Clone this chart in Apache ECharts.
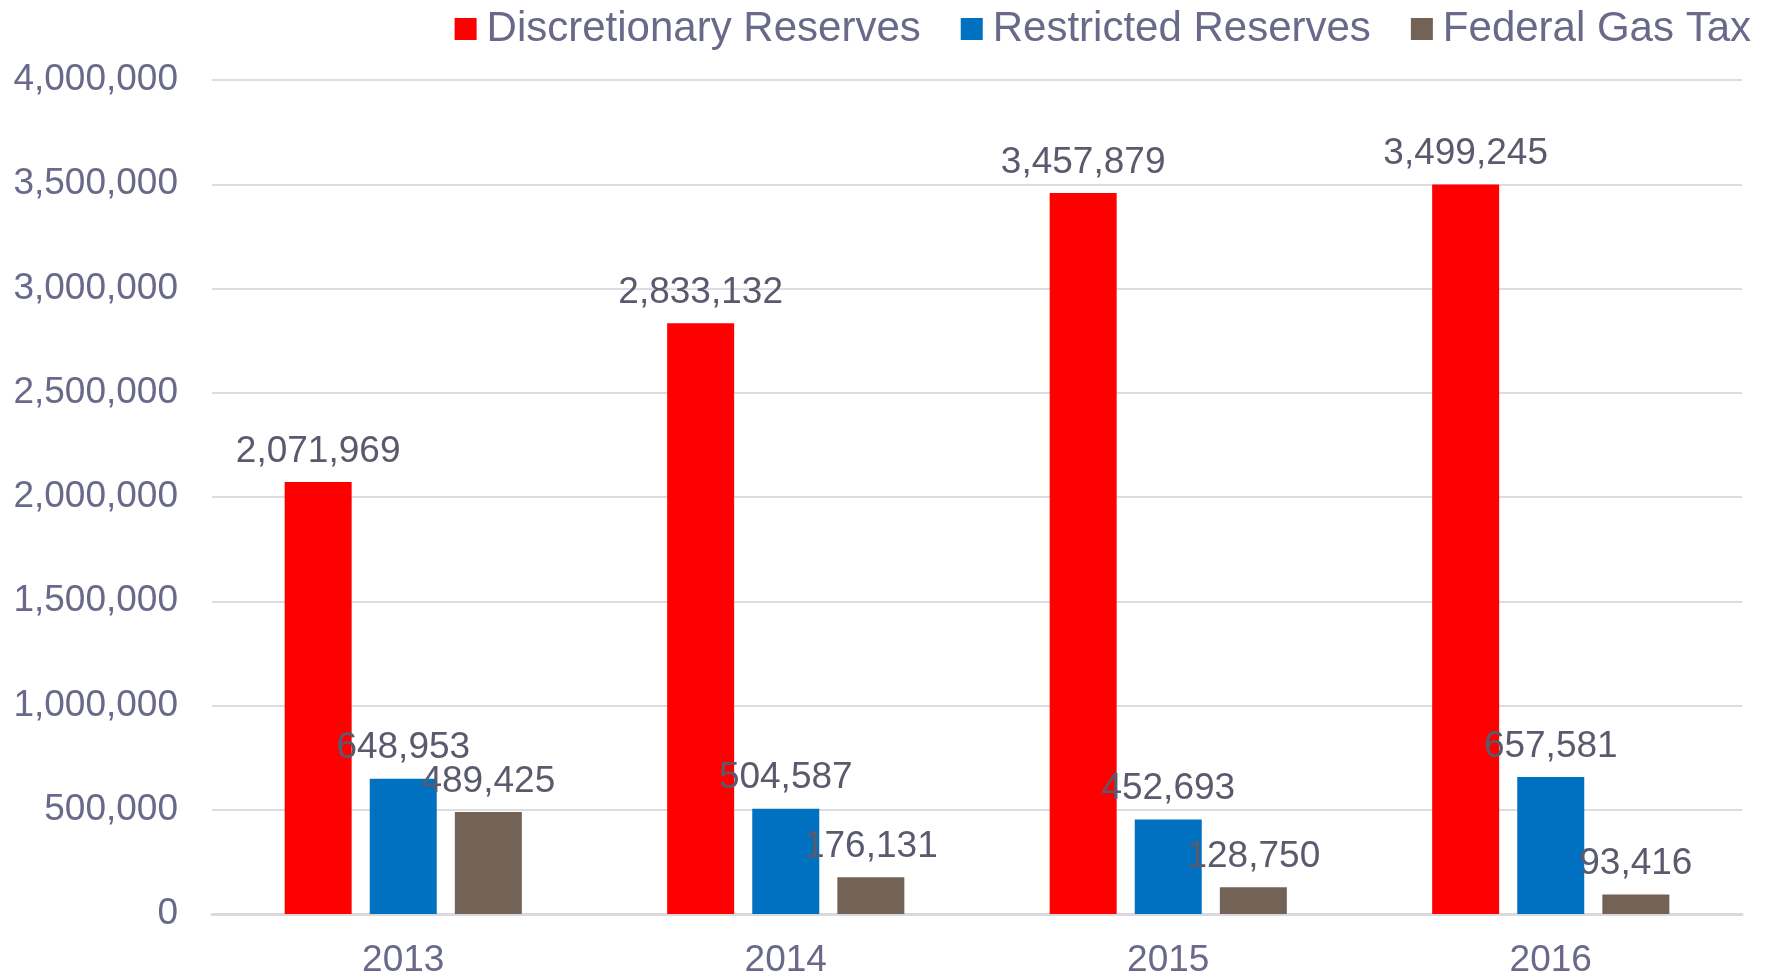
<!DOCTYPE html>
<html>
<head>
<meta charset="utf-8">
<script src="https://cdn.jsdelivr.net/npm/echarts@6/dist/echarts.min.js"></script>
<style>
html,body{margin:0;padding:0;background:#fff;}
#c{width:1770px;height:979px;}
</style>
</head>
<body>
<div id="c"></div>
<script>
const categories = ['2013', '2014', '2015', '2016'];
const discretionary = [2071969, 2833132, 3457879, 3499245];
const restricted = [648953, 504587, 452693, 657581];
const federalGasTax = [489425, 176131, 128750, 93416];
const seriesNames = ['Discretionary Reserves', 'Restricted Reserves', 'Federal Gas Tax'];

const FONT = '"Liberation Sans", Arial, sans-serif';
const AXIS_COLOR = '#69698A';
const LABEL_COLOR = '#5A5A6E';
const fmt = v => Number(v).toLocaleString('en-US');

const chart = echarts.init(document.getElementById('c'));
const mk = (name, data, color) => ({
  name, type: 'bar', data,
  barWidth: 67, barGap: '27%',
  itemStyle: { color },
  label: {
    show: true, position: 'top', distance: 12,
    color: LABEL_COLOR, fontSize: 37, fontFamily: FONT,
    formatter: p => fmt(p.value)
  }
});
chart.setOption({
  animation: false,
  textStyle: { fontFamily: FONT },
  legend: {
    top: 3, right: 14,
    itemWidth: 22, itemHeight: 22, itemGap: 40,
    icon: 'rect',
    textStyle: { color: AXIS_COLOR, fontSize: 42, fontFamily: FONT, padding: [0, 0, 0, 5] },
    data: seriesNames
  },
  grid: { left: 212, right: 28, top: 80, bottom: 59, containLabel: false },
  xAxis: {
    type: 'category', data: categories,
    axisTick: { show: false },
    axisLine: { lineStyle: { color: '#D9D9DE', width: 3 } },
    axisLabel: { color: AXIS_COLOR, fontSize: 37, fontFamily: FONT, margin: 28 }
  },
  yAxis: {
    type: 'value', min: 0, max: 4000000, interval: 500000,
    axisLine: { show: false }, axisTick: { show: false },
    splitLine: { lineStyle: { color: '#DCDCE2', width: 2 } },
    axisLabel: { color: AXIS_COLOR, fontSize: 37, fontFamily: FONT, margin: 34, formatter: v => fmt(v) }
  },
  series: [
    mk(seriesNames[0], discretionary, '#FF0000'),
    mk(seriesNames[1], restricted, '#0070C0'),
    mk(seriesNames[2], federalGasTax, '#736357')
  ]
});
</script>
</body>
</html>
